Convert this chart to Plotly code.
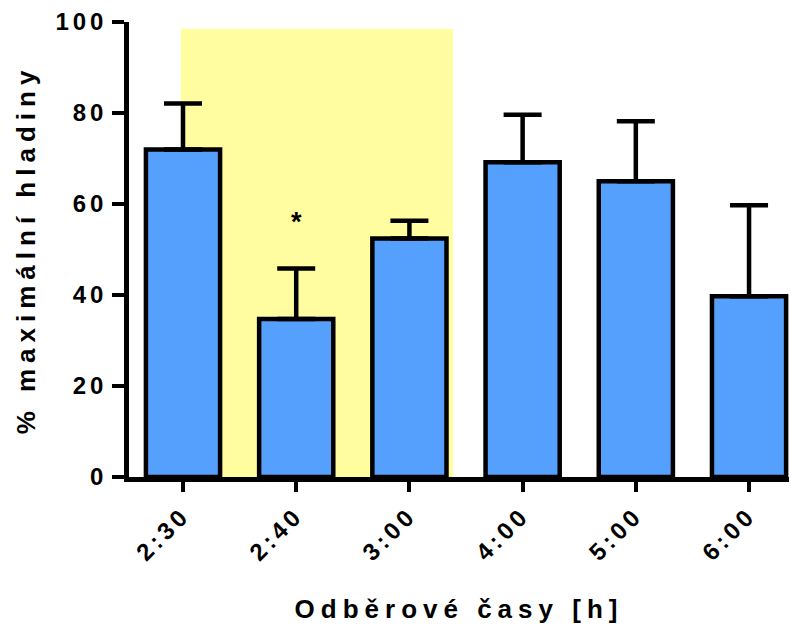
import plotly.graph_objects as go

categories = ["2:30", "2:40", "3:00", "4:00", "5:00", "6:00"]
means = [72.0, 34.7, 52.4, 69.2, 65.0, 39.7]
sd_upper = [10.1, 11.1, 3.9, 10.4, 13.2, 20.0]
y_ticks = [0, 20, 40, 60, 80, 100]
significance = {"2:40": "*"}
shade_from, shade_to, shade_top = -0.02, 2.385, 98.5

BAR_COLOR = "#559ffd"
SHADE_COLOR = "#fffda0"
FONT = "Liberation Sans, Arial, sans-serif"


def spaced(s, px):
    return f'<span style="letter-spacing:{px}px">{s}</span>'


fig = go.Figure()
fig.add_trace(go.Bar(
    x=categories, y=means,
    marker=dict(color=BAR_COLOR, line=dict(color="black", width=4.5)),
    error_y=dict(type="data", array=sd_upper, arrayminus=[0] * len(means),
                 symmetric=False, color="black", thickness=4.5, width=19),
    showlegend=False,
))

fig.add_shape(type="rect", xref="x", yref="y", x0=shade_from, x1=shade_to,
              y0=0, y1=shade_top, fillcolor=SHADE_COLOR, line=dict(width=0),
              layer="below")

for cat, mark in significance.items():
    fig.add_annotation(x=cat, y=56, text=mark, showarrow=False,
                       font=dict(size=27, color="black", family=FONT, weight="bold"))

fig.update_layout(
    width=799, height=628,
    margin=dict(l=129, r=10, t=22, b=151),
    paper_bgcolor="white", plot_bgcolor="white",
    bargap=0.345,
    font=dict(family=FONT, color="black"),
)
fig.update_xaxes(
    range=[-0.477, 5.353],
    automargin=False,
    showline=True, linecolor="black", linewidth=4.5,
    ticks="outside", ticklen=10, tickwidth=4, tickcolor="black",
    tickangle=-45,
    tickvals=categories,
    ticktext=[spaced(c, 4) for c in categories],
    tickfont=dict(size=24, family=FONT, weight="bold"),
    title=dict(text=spaced("Odběrové časy [h]", 6),
               font=dict(size=26, family=FONT, weight="bold"), standoff=36),
    showgrid=False, zeroline=False,
)
fig.update_yaxes(
    range=[0, 100],
    automargin=False,
    showline=True, linecolor="black", linewidth=4.5,
    ticks="outside", ticklen=12, tickwidth=4, tickcolor="black",
    tickvals=y_ticks,
    ticktext=[spaced(str(v), 4) for v in y_ticks],
    tickfont=dict(size=24, family=FONT, weight="bold"),
    title=dict(text=spaced("% maximální hladiny", 6),
               font=dict(size=26, family=FONT, weight="bold"), standoff=14),
    showgrid=False, zeroline=False,
)

fig.write_html("out.html")
